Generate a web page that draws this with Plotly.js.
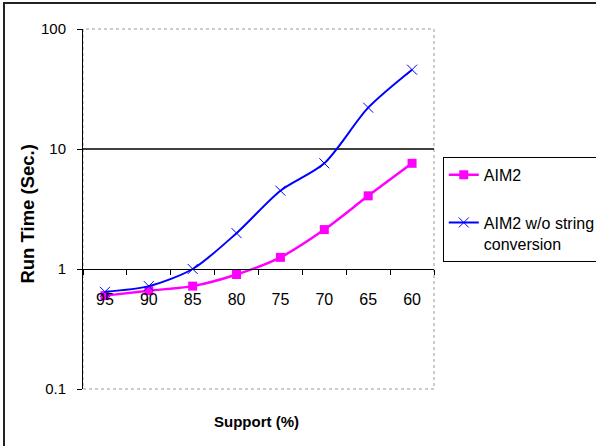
<!DOCTYPE html>
<html>
<head>
<meta charset="utf-8">
<script src="https://cdn.plot.ly/plotly-3.0.1.min.js"></script>
<style>
  html, body { margin: 0; padding: 0; background: #fff; }
  #wrap { position: relative; width: 596px; height: 446px; overflow: hidden; }
  #chart { width: 596px; height: 446px; }
  #frame { position: absolute; left: 3px; top: 2px; width: 700px; height: 600px;
           border-top: 2px solid #222; border-left: 2px solid #222; pointer-events: none; }
</style>
</head>
<body>
<div id="wrap">
  <div id="chart"></div>
  <div id="frame"></div>
</div>
<script>
// Data
const supportLabels = ['95', '90', '85', '80', '75', '70', '65', '60'];
const aim2Times = [0.60, 0.66, 0.72, 0.90, 1.25, 2.13, 4.07, 7.6];
const aim2NoConvTimes = [0.645, 0.72, 1.0, 1.99, 4.49, 7.6, 22.1, 45.8];
const yTickVals = [0.1, 1, 10, 100];
const yTickText = ['0.1', '1', '10', '100'];
const seriesNames = ['AIM2', 'AIM2 w/o string<br>conversion'];

const FONT = 'Liberation Sans, Arial, sans-serif';

const traces = [
  {
    x: supportLabels, y: aim2Times, name: seriesNames[0], type: 'scatter',
    mode: 'lines+markers', legendgroup: 'a',
    line: { color: '#FF00FF', width: 2.5, shape: 'spline', smoothing: 0.8 },
    marker: { symbol: 'square', size: 9, color: '#FF00FF' }
  },
  {
    x: supportLabels, y: aim2NoConvTimes, name: seriesNames[1], type: 'scatter',
    mode: 'lines+markers', legendgroup: 'b',
    line: { color: '#0000FF', width: 2, shape: 'spline', smoothing: 0.8 },
    marker: { symbol: 'x-thin-open', size: 10, color: '#0000FF', line: { color: '#0000FF', width: 1 } }
  }
];

const layout = {
  width: 596, height: 446,
  paper_bgcolor: '#fff', plot_bgcolor: '#fff',
  margin: { l: 83, r: 162, t: 29, b: 57, autoexpand: false },
  font: { family: FONT, color: '#000' },
  showlegend: true,
  legend: {
    x: 1.025, y: 0.645, xanchor: 'left', yanchor: 'top',
    bordercolor: '#000', borderwidth: 1, bgcolor: '#fff',
    font: { family: FONT, size: 16, color: '#000' },
    traceorder: 'grouped', tracegroupgap: 24, valign: 'top'
  },
  xaxis: {
    type: 'category', range: [-0.5, 7.5],
    anchor: 'free', position: 1 / 3,
    showline: true, linecolor: '#000', linewidth: 1,
    ticks: 'outside', tickson: 'boundaries', ticklen: 5, tickcolor: '#000', tickwidth: 1,
    showgrid: false, zeroline: false,
    tickfont: { family: FONT, size: 16, color: '#000' },
    ticklabelstandoff: 16
  },
  yaxis: {
    type: 'log', range: [-1, 2],
    tickvals: yTickVals, ticktext: yTickText,
    showline: true, linecolor: '#000', linewidth: 1,
    ticks: 'outside', ticklen: 5, tickcolor: '#000', tickwidth: 1,
    showgrid: false, zeroline: false,
    tickfont: { family: FONT, size: 15, color: '#000' },
    ticklabelstandoff: 8
  },
  shapes: [
    { type: 'rect', xref: 'paper', yref: 'paper', x0: 0, x1: 1, y0: 0, y1: 1,
      line: { color: '#999', width: 1, dash: 'dot' }, layer: 'below' },
    { type: 'line', xref: 'paper', yref: 'y', x0: 0, x1: 1, y0: 10, y1: 10,
      line: { color: '#000', width: 1.3 }, layer: 'below' }
  ],
  annotations: [
    { text: '<b>Run Time (Sec.)</b>', xref: 'paper', yref: 'paper',
      x: -0.157, y: 0.487, xanchor: 'center', yanchor: 'middle', textangle: -90, showarrow: false,
      font: { family: FONT, size: 18.5, color: '#000' } },
    { text: '<b>Support (%)</b>', xref: 'paper', yref: 'paper',
      x: 0.493, y: -0.091, xanchor: 'center', yanchor: 'middle', showarrow: false,
      font: { family: FONT, size: 15, color: '#000' } }
  ]
};

Plotly.newPlot('chart', traces, layout, { displayModeBar: false, staticPlot: true });
</script>
</body>
</html>
